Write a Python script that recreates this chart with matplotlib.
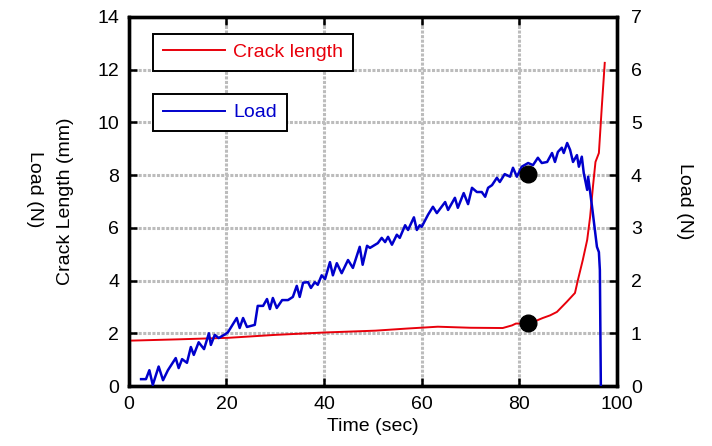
import numpy as np
import matplotlib
matplotlib.use('Agg')
import matplotlib.pyplot as plt
from matplotlib.lines import Line2D

plt.rcParams['font.family'] = ['Liberation Sans', 'DejaVu Sans']

# Crack length (mm) vs time (sec)
t_crack = [0, 10, 20.5, 30, 40, 50.5, 57, 63.3, 70, 76.6, 78.5, 79.3, 80.5, 81.8,
           83.5, 84.8, 86.3, 87.7, 89.7, 91.4, 92.0, 93.0, 93.9, 94.5, 95.1,
           95.6, 96.3, 96.9, 97.5]
crack = [1.72, 1.77, 1.83, 1.94, 2.03, 2.1, 2.18, 2.25, 2.21, 2.2, 2.3, 2.37, 2.37, 2.39,
         2.48, 2.58, 2.68, 2.81, 3.19, 3.53, 4.02, 4.78, 5.54, 6.41, 7.6,
         8.5, 8.84, 10.6, 12.26]

# Load (N) vs time (sec)
t_load = [2.5, 3.5, 4.2, 4.9, 6.1, 7.0, 8.0, 9.6, 10.2, 10.9, 11.9, 12.7, 13.3,
          14.3, 15.4, 16.4, 16.8, 17.6, 18.4, 19.7, 20.3, 22.1, 22.7, 23.4, 24.2,
          25.8, 26.4, 27.5, 28.3, 28.9, 29.5, 30.3, 31.4, 32.6, 33.6, 34.4, 35.0,
          35.7, 36.7, 37.3, 38.1, 38.7, 39.5, 40.2, 41.2, 41.8, 42.6, 43.6, 44.9,
          45.9, 47.3, 47.9, 48.8, 49.4, 51.0, 51.8, 52.5, 53.1, 53.9, 54.9, 55.5,
          56.6, 57.2, 58.4, 59.0, 59.6, 60.0, 61.3, 62.3, 63.1, 64.8, 65.4, 66.8,
          67.4, 68.6, 69.5, 70.3, 71.3, 72.3, 73.0, 73.6, 74.4, 75.4, 76.0, 77.0,
          78.1, 78.7, 79.5, 80.5, 81.8, 82.8, 83.8, 84.6, 85.7, 86.7, 87.3, 87.9,
          88.7, 89.1, 89.8, 90.4, 91.0, 91.8, 92.2, 92.8, 93.2, 93.9, 94.1, 94.9,
          95.9, 96.3, 96.5, 96.7]
load = [0.13, 0.13, 0.30, 0.02, 0.37, 0.11, 0.30, 0.53, 0.34, 0.51, 0.44, 0.74, 0.59,
        0.83, 0.70, 1.00, 0.78, 0.97, 0.91, 0.98, 1.02, 1.29, 1.10, 1.29, 1.12,
        1.16, 1.52, 1.52, 1.65, 1.46, 1.67, 1.48, 1.63, 1.63, 1.69, 1.90, 1.69,
        1.96, 1.97, 1.86, 1.97, 1.92, 2.10, 2.03, 2.35, 2.10, 2.33, 2.14, 2.39,
        2.24, 2.64, 2.30, 2.66, 2.62, 2.71, 2.81, 2.73, 2.83, 2.68, 2.87, 2.81,
        3.05, 2.96, 3.20, 2.96, 3.05, 3.02, 3.25, 3.40, 3.28, 3.49, 3.34, 3.57,
        3.38, 3.66, 3.45, 3.76, 3.68, 3.68, 3.59, 3.76, 3.81, 3.95, 3.87, 4.02,
        3.97, 4.14, 3.97, 4.16, 4.23, 4.19, 4.33, 4.23, 4.25, 4.42, 4.25, 4.44,
        4.52, 4.42, 4.61, 4.48, 4.25, 4.38, 4.16, 4.35, 4.04, 3.72, 3.97, 3.40,
        2.64, 2.54, 2.20, 0.0]

# marked points
t_mark = 81.8
crack_mark = 2.39
load_mark = 4.02

fs = 14
fig = plt.figure(figsize=(7.12, 4.46), dpi=100)
ax = fig.add_axes([0.181, 0.1345, 0.6855, 0.8274])
ax2 = ax.twinx()

ax.plot(t_crack, crack, color='#e8000b', lw=1.4, zorder=3)
ax.plot([t_mark], [crack_mark], 'o', color='black', ms=12, zorder=4)
ax2.plot(t_load, load, color='#0000cc', lw=1.8, zorder=3)
ax2.plot([t_mark], [load_mark], 'o', color='black', ms=12, zorder=4)

ax.set_xlim(0, 100)
ax.set_ylim(0, 14)
ax2.set_ylim(0, 7)
ax.set_xticks(range(0, 101, 20))
ax.set_yticks(range(0, 15, 2))
ax2.set_yticks(range(0, 8, 1))

ax.grid(True, color='#bcbcbc', lw=2.2, linestyle=(0, (1, 0.5)), zorder=0)
ax.set_axisbelow(True)

for a in (ax, ax2):
    for s in a.spines.values():
        s.set_linewidth(2.4)
ax.tick_params(axis='both', direction='in', length=6, width=1.8, labelsize=fs,
               top=True, pad=7)
ax.tick_params(axis='x', pad=7)
ax2.tick_params(axis='y', direction='in', length=6, width=1.8, labelsize=fs, pad=10)

ax.set_xlabel('Time (sec)', fontsize=fs, labelpad=4)
ax.set_ylabel('Crack Length (mm)', fontsize=fs, labelpad=17)
ax2.set_ylabel('Load (N)', fontsize=fs, rotation=270, labelpad=37)
fig.text(0.049, 0.575, 'Load (N)', fontsize=fs, rotation=270, ha='center', va='center')

h1 = Line2D([], [], color='#e8000b', lw=1.4)
h2 = Line2D([], [], color='#0000cc', lw=1.4)
kw = dict(loc='upper left', fontsize=fs, fancybox=False, framealpha=1,
          edgecolor='black', handlelength=3.2, handletextpad=0.45,
          borderpad=0.5, borderaxespad=0)
leg1 = ax2.legend([h1], ['Crack length'], bbox_to_anchor=(0.049, 0.954),
                  labelcolor=['#e8000b'], **kw)
leg1.get_frame().set_linewidth(1.4)
ax2.add_artist(leg1)
leg2 = ax2.legend([h2], ['Load'], bbox_to_anchor=(0.049, 0.791),
                  labelcolor=['#0000cc'], **kw)
leg2.get_frame().set_linewidth(1.4)

fig.savefig('out.png', dpi=100)
